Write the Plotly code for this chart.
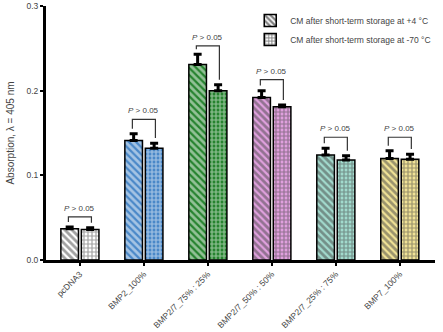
import plotly.graph_objects as go

categories = ["pcDNA3", "BMP2_100%", "BMP2/7_75% : 25%", "BMP2/7_50% : 50%", "BMP2/7_25% : 75%", "BMP7_100%"]
colors = ["#ffffff", "#4a88c8", "#26832f", "#e0a0de", "#a2dacd", "#f0e296"]
series_names = ["CM after short-term storage at +4 °C", "CM after short-term storage at -70 °C"]
values_plus4 = [0.037, 0.141, 0.231, 0.192, 0.124, 0.120]
errors_plus4 = [0.002, 0.008, 0.012, 0.008, 0.008, 0.009]
values_minus70 = [0.036, 0.132, 0.200, 0.181, 0.118, 0.119]
errors_minus70 = [0.002, 0.006, 0.007, 0.002, 0.005, 0.006]
bracket_heights = [0.051, 0.166, 0.253, 0.213, 0.145, 0.145]
p_label = "<i>P</i> > 0.05"
y_ticks = [0.0, 0.1, 0.2, 0.3]

xs = list(range(len(categories)))
fig = go.Figure()

fig.add_trace(go.Bar(
    x=xs, y=values_plus4, name=series_names[0],
    marker=dict(color=colors, line=dict(color="black", width=1.5),
                pattern=dict(shape="\\", fgcolor="black", size=5, solidity=0.55)),
    error_y=dict(type="data", array=errors_plus4, arrayminus=[0]*6, symmetric=False,
                 color="black", thickness=3, width=4),
))
fig.add_trace(go.Bar(
    x=xs, y=values_minus70, name=series_names[1],
    marker=dict(color=colors, line=dict(color="black", width=1.5),
                pattern=dict(shape="+", fgcolor="black", size=4, solidity=0.5)),
    error_y=dict(type="data", array=errors_minus70, arrayminus=[0]*6, symmetric=False,
                 color="black", thickness=3, width=4),
))

off = 0.18
gap = 0.006
for i, h in enumerate(bracket_heights):
    l_bot = values_plus4[i] + errors_plus4[i] + gap
    r_bot = values_minus70[i] + errors_minus70[i] + gap
    fig.add_shape(type="path",
                  path=f"M {i-off},{l_bot} L {i-off},{h} L {i+off},{h} L {i+off},{r_bot}",
                  xref="x", yref="y", line=dict(color="#333333", width=1.2))
    fig.add_annotation(x=i, y=h, text=p_label, showarrow=False, yanchor="bottom", yshift=2,
                       font=dict(size=8, color="#444444", family="Arial, Liberation Sans"))

fig.update_layout(
    width=443, height=332,
    margin=dict(l=46, r=8, t=6, b=72),
    plot_bgcolor="white", paper_bgcolor="white",
    barmode="group", bargap=0.36, bargroupgap=0.14,
    font=dict(family="Arial, Liberation Sans", color="#444444", size=8),
    showlegend=True,
    legend=dict(x=0.525, y=1.0, xanchor="left", yanchor="top",
                font=dict(size=8.5, color="#444444"), bgcolor="rgba(255,255,255,0)",
                itemwidth=30, tracegroupgap=6),
)
fig.update_xaxes(range=[-0.53, 5.55], tickvals=xs, ticktext=categories, tickangle=-45,
                 showline=True, linecolor="black", linewidth=3, ticks="outside", ticklen=3,
                 tickwidth=1.5, tickcolor="black", showgrid=False, zeroline=False,
                 automargin=False, tickfont=dict(size=8.5, color="#444444"))
fig.update_yaxes(range=[0, 0.3], tickvals=y_ticks, ticktext=[f"{v:.1f}" for v in y_ticks],
                 showline=True, linecolor="black", linewidth=3, ticks="outside", ticklen=3,
                 tickwidth=1.5, tickcolor="black", showgrid=False, zeroline=False,
                 automargin=False, tickfont=dict(size=8.5, color="#444444"),
                 title=dict(text="Absorption, λ = 405 nm", font=dict(size=10, color="#444444"), standoff=10))

fig.write_html("out.html")
